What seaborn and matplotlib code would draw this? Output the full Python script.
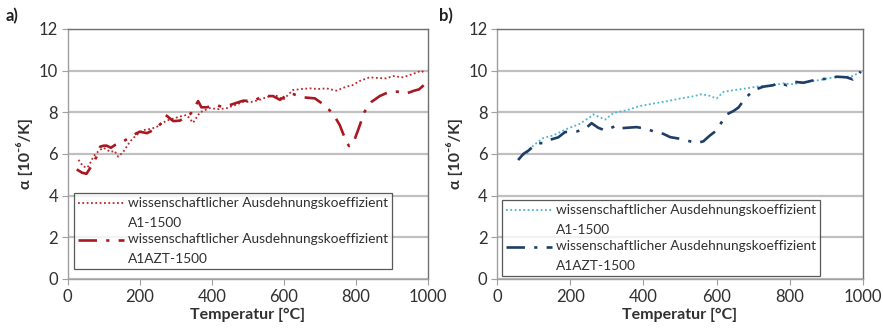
import matplotlib
matplotlib.use("Agg")
import matplotlib.pyplot as plt
from matplotlib.lines import Line2D
from matplotlib.legend_handler import HandlerLine2D
import numpy as np
import seaborn as sns
import pandas as pd

# ---- data ----
a1_T = [30, 43, 55, 62, 71, 80, 90, 100, 108, 120, 130, 140, 154, 173, 190, 210, 230, 247, 274, 293, 311, 330, 348, 367, 394, 420, 441, 465, 487, 510, 533, 555, 579, 598, 625, 650, 672, 695, 718, 746, 773, 790, 810, 838, 860, 884, 903, 930, 958, 981, 990]
a1_v = [5.72, 5.4, 5.35, 5.55, 5.87, 6.05, 6.2, 6.3, 6.2, 6.1, 6.15, 5.87, 6.1, 6.6, 6.9, 7.15, 7.2, 7.3, 7.6, 7.7, 7.8, 7.87, 7.5, 8.0, 8.2, 8.15, 8.2, 8.35, 8.5, 8.5, 8.6, 8.75, 8.8, 8.6, 9.07, 9.12, 9.15, 9.12, 9.15, 9.04, 9.23, 9.3, 9.5, 9.68, 9.65, 9.63, 9.74, 9.68, 9.84, 10.0, 9.9]

aazt_T = [25, 40, 52, 65, 80, 90, 100, 108, 120, 131, 145, 163, 180, 200, 220, 247, 260, 272, 293, 311, 330, 342, 362, 371, 385, 413, 431, 459, 487, 515, 542, 570, 589, 616, 625, 653, 686, 708, 736, 755, 773, 781, 792, 806, 824, 843, 866, 893, 916, 939, 962, 975, 988]
aazt_v = [5.26, 5.1, 5.05, 5.4, 5.87, 6.35, 6.4, 6.4, 6.3, 6.43, 6.5, 6.7, 6.9, 7.07, 7.0, 7.23, 7.5, 7.87, 7.58, 7.6, 7.8, 7.95, 8.54, 8.24, 8.24, 8.35, 8.24, 8.4, 8.56, 8.54, 8.78, 8.78, 8.6, 8.91, 8.88, 8.72, 8.67, 8.4, 7.95, 7.39, 6.6, 6.38, 6.5, 7.15, 8.03, 8.5, 8.78, 8.99, 8.99, 8.9, 9.04, 9.1, 9.3]

b1_T = [70, 80, 98, 126, 153, 190, 226, 254, 263, 281, 295, 318, 354, 390, 427, 463, 500, 537, 559, 582, 600, 619, 646, 682, 719, 755, 783, 810, 847, 883, 920, 956, 974, 988, 995]
b1_v = [5.95, 6.0, 6.4, 6.77, 6.89, 7.2, 7.45, 7.77, 7.9, 7.76, 7.65, 7.97, 8.1, 8.3, 8.42, 8.53, 8.66, 8.77, 8.87, 8.79, 8.66, 8.98, 9.06, 9.15, 9.26, 9.3, 9.39, 9.35, 9.47, 9.55, 9.68, 9.71, 9.74, 9.9, 10.0]

bazt_T = [57, 71, 85, 108, 126, 144, 167, 185, 217, 240, 258, 276, 295, 327, 340, 381, 409, 432, 454, 473, 500, 527, 546, 564, 582, 600, 614, 628, 646, 660, 678, 701, 728, 755, 769, 792, 810, 838, 861, 883, 911, 929, 956, 973, 984, 995]
bazt_v = [5.71, 6.0, 6.16, 6.52, 6.52, 6.68, 6.8, 7.05, 7.08, 7.2, 7.48, 7.26, 7.13, 7.37, 7.24, 7.29, 7.21, 7.05, 6.97, 6.81, 6.73, 6.61, 6.52, 6.61, 6.89, 7.13, 7.53, 7.9, 8.06, 8.23, 8.66, 9.06, 9.23, 9.3, 9.42, 9.3, 9.47, 9.42, 9.52, 9.58, 9.63, 9.71, 9.68, 9.58, 9.79, 9.95]

x_ticks = [0, 200, 400, 600, 800, 1000]
y_ticks = [0, 2, 4, 6, 8, 10, 12]
label_1 = "wissenschaftlicher Ausdehnungskoeffizient\nA1-1500"
label_2 = "wissenschaftlicher Ausdehnungskoeffizient\nA1AZT-1500"
x_label = "Temperatur [°C]"
y_label = "α [10⁻⁶/K]"
panel_labels = ["a)", "b)"]


class FirstLineHandler(HandlerLine2D):
    """Legend handle aligned with the first line of a two-line label."""
    def create_artists(self, legend, orig_handle, xdescent, ydescent,
                       width, height, fontsize, trans):
        arts = super().create_artists(legend, orig_handle, xdescent, ydescent,
                                      width, height, fontsize, trans)
        for a in arts:
            if isinstance(a, Line2D):
                a.set_ydata(np.asarray(a.get_ydata(), dtype=float) + 7.0)
        return arts


sns.set_theme(style="white")
plt.rcParams["font.family"] = ["Lato", "DejaVu Sans"]

fig = plt.figure(figsize=(8.83, 3.34), dpi=100)
ax_a = fig.add_axes([0.0767, 0.1647, 0.408, 0.7485])
ax_b = fig.add_axes([0.5632, 0.1647, 0.4138, 0.7485])

panels = [
    (ax_a, a1_T, a1_v, aazt_T, aazt_v, "#c0282a", "#a81820"),
    (ax_b, b1_T, b1_v, bazt_T, bazt_v, "#4bb3d6", "#1f3d66"),
]

for i, (ax, t1, v1, t2, v2, c1, c2) in enumerate(panels):
    d1 = pd.DataFrame({"T": t1, "v": v1})
    d2 = pd.DataFrame({"T": t2, "v": v2})
    sns.lineplot(data=d1, x="T", y="v", ax=ax, color=c1, linewidth=1.3,
                 linestyle=(0, (1, 1.4)), label=label_1)
    sns.lineplot(data=d2, x="T", y="v", ax=ax, color=c2, linewidth=1.9,
                 linestyle=(0, (7, 3.5, 1.2, 3.5)), label=label_2)
    ax.set_xlim(0, 1000)
    ax.set_ylim(0, 12)
    ax.set_xticks(x_ticks)
    ax.set_yticks(y_ticks)
    ax.tick_params(axis="both", labelsize=12, length=4,
                   width=0.8, direction="out", pad=3, color="#a0a0a0")
    ax.tick_params(axis="y", left=True)
    ax.tick_params(axis="x", bottom=True)
    for lbl in ax.get_xticklabels() + ax.get_yticklabels():
        lbl.set_color("#303030")
    ax.grid(axis="y", color="#c0c0c0", linewidth=1.6)
    ax.set_axisbelow(True)
    ax.spines["left"].set_color("#a0a0a0")
    ax.spines["bottom"].set_color("#a0a0a0")
    ax.spines["top"].set_color("#707070")
    ax.spines["right"].set_color("#707070")
    for s in ax.spines.values():
        s.set_linewidth(1.0)
    ax.set_xlabel(x_label, fontsize=11.5, fontweight="bold", color="#303030", labelpad=2)
    ax.set_ylabel(y_label, fontsize=11.5, fontweight="bold", color="#303030", labelpad=4)
    leg = ax.legend(loc="lower left", bbox_to_anchor=(0.018, 0.04) if i == 0 else (0.013, 0.012),
                    fontsize=9.9, frameon=True, fancybox=False, edgecolor="#303030",
                    handlelength=3.3, handletextpad=0.3, borderpad=0.3, labelspacing=0.35,
                    borderaxespad=0.0, handler_map={Line2D: FirstLineHandler()})
    leg.get_frame().set_linewidth(0.9)
    for txt in leg.get_texts():
        txt.set_color("#303030")
        txt.set_linespacing(1.75)

fig.text(0.006, 0.935, panel_labels[0], fontsize=12, fontweight="bold", color="#202020")
fig.text(0.497, 0.935, panel_labels[1], fontsize=12, fontweight="bold", color="#202020")

fig.savefig("out.png", dpi=100, facecolor="white")
